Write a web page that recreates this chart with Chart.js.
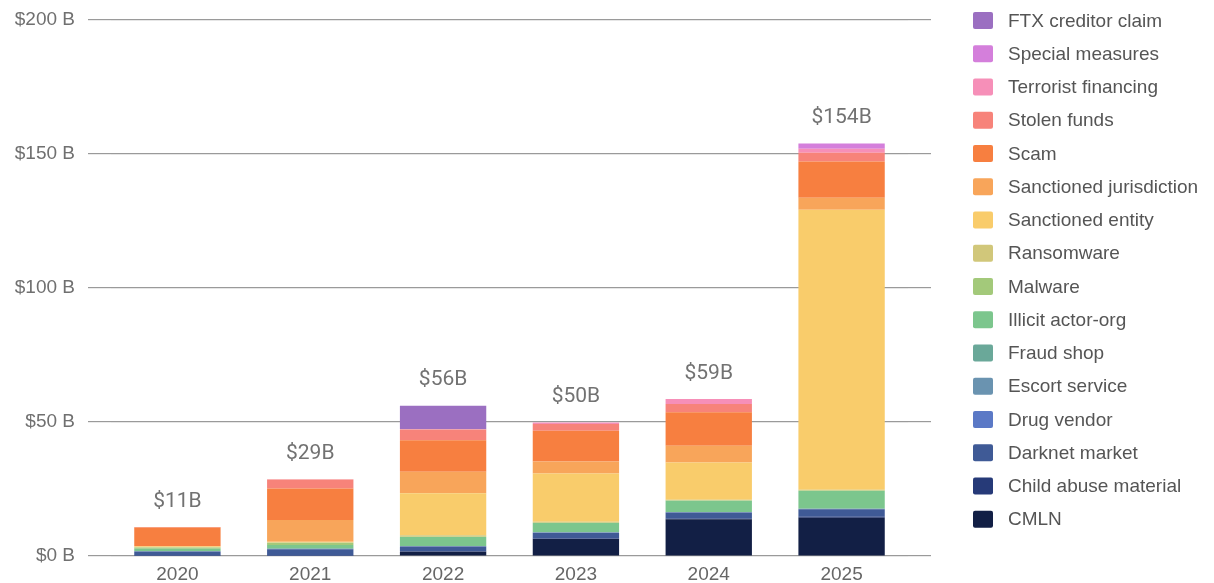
<!DOCTYPE html>
<html>
<head>
<meta charset="utf-8">
<title>Illicit crypto volume by category</title>
<script src="https://cdn.jsdelivr.net/npm/chart.js@4.4.1/dist/chart.umd.min.js"></script>
<style>
    html, body { margin: 0; padding: 0; background: #ffffff; }
    #wrap { width: 1214px; height: 583px; position: relative; }
</style>
</head>
<body>
<div id="wrap"><canvas id="illicitChart"></canvas></div>
<script>
// Values in $ billions, stacked bottom to top
const years = ['2020', '2021', '2022', '2023', '2024', '2025'];
const yTicks = [0, 50, 100, 150, 200];

const cmln = [0, 0, 1.6, 6.3, 13.7, 14.3];
const childAbuse = [0.1, 0.1, 0.2, 0.2, 0.2, 0.3];
const darknetMarket = [1.6, 2.4, 1.7, 2.2, 2.3, 2.8];
const drugVendor = [0.1, 0.2, 0.1, 0.1, 0.1, 0.1];
const escortService = [0, 0, 0, 0, 0, 0];
const fraudShop = [0, 0, 0.1, 0.1, 0.1, 0.2];
const illicitActor = [0.9, 1.4, 3.4, 3.4, 4.2, 6.6];
const malware = [0.5, 0.8, 0.1, 0.1, 0.1, 0.1];
const ransomware = [0.1, 0.1, 0.5, 0.4, 0.3, 0.3];
const sanctionedEntity = [0.3, 0.3, 15.7, 18.0, 13.9, 104.5];
const sanctionedJurisdiction = [0, 8.1, 8.0, 4.5, 6.2, 4.5];
const scam = [7.0, 11.8, 11.8, 11.4, 12.5, 13.5];
const stolenFunds = [0.2, 3.3, 4.0, 2.6, 3.1, 3.3];
const terroristFinancing = [0, 0.1, 0.1, 0.5, 1.9, 1.5];
const specialMeasures = [0, 0, 0, 0, 0, 1.9];
const ftxClaim = [0, 0, 8.8, 0, 0, 0];

const series = [
    { label: 'CMLN', data: cmln, color: '#121f45' },
    { label: 'Child abuse material', data: childAbuse, color: '#263a78' },
    { label: 'Darknet market', data: darknetMarket, color: '#3f5a96' },
    { label: 'Drug vendor', data: drugVendor, color: '#5b79c6' },
    { label: 'Escort service', data: escortService, color: '#6a93b0' },
    { label: 'Fraud shop', data: fraudShop, color: '#6aa899' },
    { label: 'Illicit actor-org', data: illicitActor, color: '#7cc68d' },
    { label: 'Malware', data: malware, color: '#a3c97a' },
    { label: 'Ransomware', data: ransomware, color: '#d1c77a' },
    { label: 'Sanctioned entity', data: sanctionedEntity, color: '#f9cc6b' },
    { label: 'Sanctioned jurisdiction', data: sanctionedJurisdiction, color: '#f8a55a' },
    { label: 'Scam', data: scam, color: '#f77f40' },
    { label: 'Stolen funds', data: stolenFunds, color: '#f7837a' },
    { label: 'Terrorist financing', data: terroristFinancing, color: '#f68fb8' },
    { label: 'Special measures', data: specialMeasures, color: '#d47fdb' },
    { label: 'FTX creditor claim', data: ftxClaim, color: '#9b6fc1' },
];

const tickFont = { family: 'Liberation Sans, Arial, sans-serif', size: 19 };

// Total above each stacked bar
const totalLabels = {
    id: 'totalLabels',
    afterDatasetsDraw(chart) {
        const ctx = chart.ctx;
        const xScale = chart.scales.x;
        const yScale = chart.scales.y;
        ctx.save();
        ctx.font = '21px Roboto, sans-serif';
        ctx.fillStyle = '#727272';
        ctx.textAlign = 'center';
        ctx.textBaseline = 'bottom';
        years.forEach((year, i) => {
            let total = 0;
            chart.data.datasets.forEach(ds => { total += ds.data[i]; });
            const x = xScale.getPixelForValue(i);
            const y = yScale.getPixelForValue(total);
            ctx.fillText('$' + Math.round(total) + 'B', x, y - 15);
        });
        ctx.restore();
    }
};

// Legend column on the right, top series first
const sideLegend = {
    id: 'sideLegend',
    afterDraw(chart) {
        const ctx = chart.ctx;
        const boxX = 973, textX = 1008, firstY = 20.5, step = 33.25;
        ctx.save();
        ctx.font = '19px Liberation Sans, Arial, sans-serif';
        ctx.textBaseline = 'middle';
        ctx.textAlign = 'left';
        const items = chart.data.datasets.slice().reverse();
        items.forEach((ds, i) => {
            const cy = firstY + i * step;
            ctx.fillStyle = ds.backgroundColor;
            ctx.beginPath();
            ctx.roundRect(boxX, cy - 8.5, 20, 17, 2);
            ctx.fill();
            ctx.fillStyle = '#555555';
            ctx.fillText(ds.label, textX, cy + 1);
        });
        ctx.restore();
    }
};

function drawChart() {
    const ctx = document.getElementById('illicitChart').getContext('2d');
    new Chart(ctx, {
        type: 'bar',
        data: {
            labels: years,
            datasets: series.map(s => ({
                label: s.label,
                data: s.data,
                backgroundColor: s.color,
                borderWidth: 0,
                barPercentage: 0.65,
                categoryPercentage: 1.0,
            })),
        },
        options: {
            responsive: true,
            maintainAspectRatio: false,
            animation: false,
            layout: { padding: { top: 20, right: 283, bottom: 0, left: 0 } },
            plugins: {
                legend: { display: false },
                tooltip: { enabled: false },
            },
            scales: {
                x: {
                    stacked: true,
                    afterFit: scale => { scale.height = 27; },
                    grid: { display: false, drawTicks: false },
                    border: { display: false },
                    ticks: { color: '#666666', font: tickFont, padding: 7 },
                },
                y: {
                    stacked: true,
                    min: 0,
                    max: 200,
                    afterFit: scale => {
                        scale.width = 111;
                        scale.paddingTop = 0;
                        scale.paddingBottom = 0;
                    },
                    afterBuildTicks: scale => { scale.ticks = yTicks.map(v => ({ value: v })); },
                    grid: { color: '#9a9a9a', lineWidth: 1.2, tickLength: 23, drawTicks: true },
                    border: { display: false },
                    ticks: {
                        color: '#707070',
                        font: tickFont,
                        padding: 13,
                        callback: value => '$' + value + ' B',
                    },
                },
                yRight: {
                    position: 'right',
                    min: 0,
                    max: 200,
                    afterBuildTicks: scale => { scale.ticks = yTicks.map(v => ({ value: v })); },
                    grid: { color: '#9a9a9a', lineWidth: 1.2, tickLength: 23, drawTicks: true, drawOnChartArea: false },
                    border: { display: false },
                    ticks: { display: false },
                },
            },
        },
        plugins: [totalLabels, sideLegend],
    });
}

window.onload = () => {
    drawChart();
};
</script>
</body>
</html>
